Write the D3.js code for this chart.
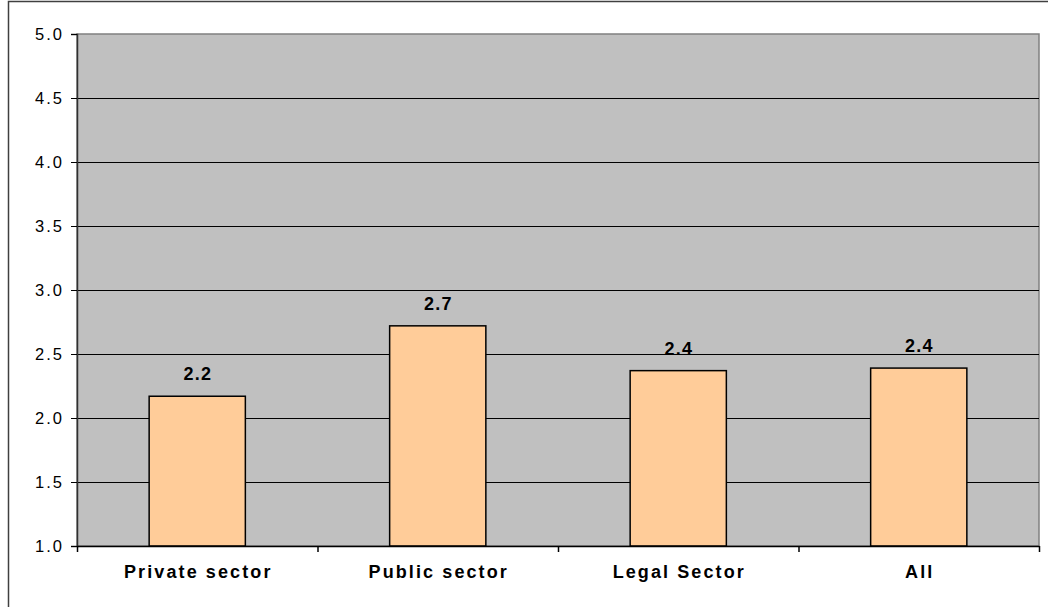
<!DOCTYPE html>
<html>
<head>
<meta charset="utf-8">
<script src="https://cdn.jsdelivr.net/npm/d3@7"></script>
<style>
  html, body { margin: 0; padding: 0; background: #fff; }
  svg { display: block; font-family: "Liberation Sans", Arial, sans-serif; }
</style>
</head>
<body>
<svg id="chart" width="1048" height="607"></svg>
<script>
// Mean scores by sector
const categories = ["Private sector", "Public sector", "Legal Sector", "All"];
const values = [2.17, 2.72, 2.37, 2.39];
const valueLabels = ["2.2", "2.7", "2.4", "2.4"];
const yTicks = [1.0, 1.5, 2.0, 2.5, 3.0, 3.5, 4.0, 4.5, 5.0];

const svg = d3.select("#chart");
const plot = { left: 77, top: 34, right: 1039, bottom: 546 };

// Outer chart frame
svg.append("rect")
  .attr("x", 8.5).attr("y", 1.5)
  .attr("width", 1200).attr("height", 700)
  .attr("fill", "none").attr("stroke", "#404040").attr("stroke-width", 1.5);

const x = d3.scaleBand()
  .domain(categories)
  .range([plot.left, plot.right])
  .paddingInner(0.6).paddingOuter(0.3);

// Category boundaries, for the tick marks between categories
const xEdges = d3.scaleLinear().domain([0, categories.length]).range([plot.left, plot.right]);

const y = d3.scaleLinear().domain([1, 5]).range([plot.bottom, plot.top]);

// Plot background
svg.append("rect")
  .attr("x", plot.left).attr("y", plot.top)
  .attr("width", plot.right - plot.left).attr("height", plot.bottom - plot.top)
  .attr("fill", "#C0C0C0").attr("stroke", "#808080").attr("stroke-width", 1.5);

// Horizontal gridlines
svg.append("g").selectAll("line")
  .data(yTicks.filter(d => d > 1 && d < 5))
  .join("line")
  .attr("x1", plot.left).attr("x2", plot.right)
  .attr("y1", d => Math.round(y(d)) + 0.5).attr("y2", d => Math.round(y(d)) + 0.5)
  .attr("stroke", "#000").attr("stroke-width", 1);

// Y axis
const yAxis = d3.axisLeft(y)
  .tickValues(yTicks)
  .tickFormat(d3.format(".1f"))
  .tickSize(6).tickPadding(7);

const gy = svg.append("g")
  .attr("transform", `translate(${plot.left},0)`)
  .call(yAxis);
gy.select(".domain").attr("stroke", "#303030").attr("stroke-width", 1.5);
gy.selectAll(".tick line").attr("stroke", "#000");
gy.selectAll(".tick text")
  .style("font-size", "16.5px").style("letter-spacing", "2px")
  .style("font-family", "'Liberation Sans', Arial, sans-serif")
  .attr("fill", "#000");

// Bars
svg.append("g").selectAll("rect")
  .data(categories)
  .join("rect")
  .attr("x", d => x(d))
  .attr("y", (d, i) => y(values[i]))
  .attr("width", x.bandwidth())
  .attr("height", (d, i) => y(1) - y(values[i]))
  .attr("fill", "#FFCC99").attr("stroke", "#000").attr("stroke-width", 1.5);

// X axis with tick marks between categories
const xAxis = d3.axisBottom(xEdges)
  .tickValues(d3.range(categories.length + 1))
  .tickFormat("")
  .tickSize(6).tickSizeOuter(0);
const gx = svg.append("g")
  .attr("transform", `translate(0,${plot.bottom})`)
  .call(xAxis);
gx.select(".domain").attr("stroke", "#000").attr("stroke-width", 1.5);
gx.selectAll(".tick line").attr("stroke", "#000").attr("stroke-width", 1.5);

// Value labels
svg.append("g").selectAll("text")
  .data(categories)
  .join("text")
  .attr("x", d => x(d) + x.bandwidth() / 2 + 0.6)
  .attr("y", (d, i) => y(values[i]) - 16)
  .attr("text-anchor", "middle")
  .style("font-size", "18px").style("font-weight", "bold")
  .style("letter-spacing", "1.2px")
  .text((d, i) => valueLabels[i]);

// Category labels
svg.append("g").selectAll("text")
  .data(categories)
  .join("text")
  .attr("x", d => x(d) + x.bandwidth() / 2 + 1)
  .attr("y", 578)
  .attr("text-anchor", "middle")
  .style("font-size", "18px").style("font-weight", "bold")
  .style("letter-spacing", "2.1px")
  .text(d => d);
</script>
</body>
</html>
